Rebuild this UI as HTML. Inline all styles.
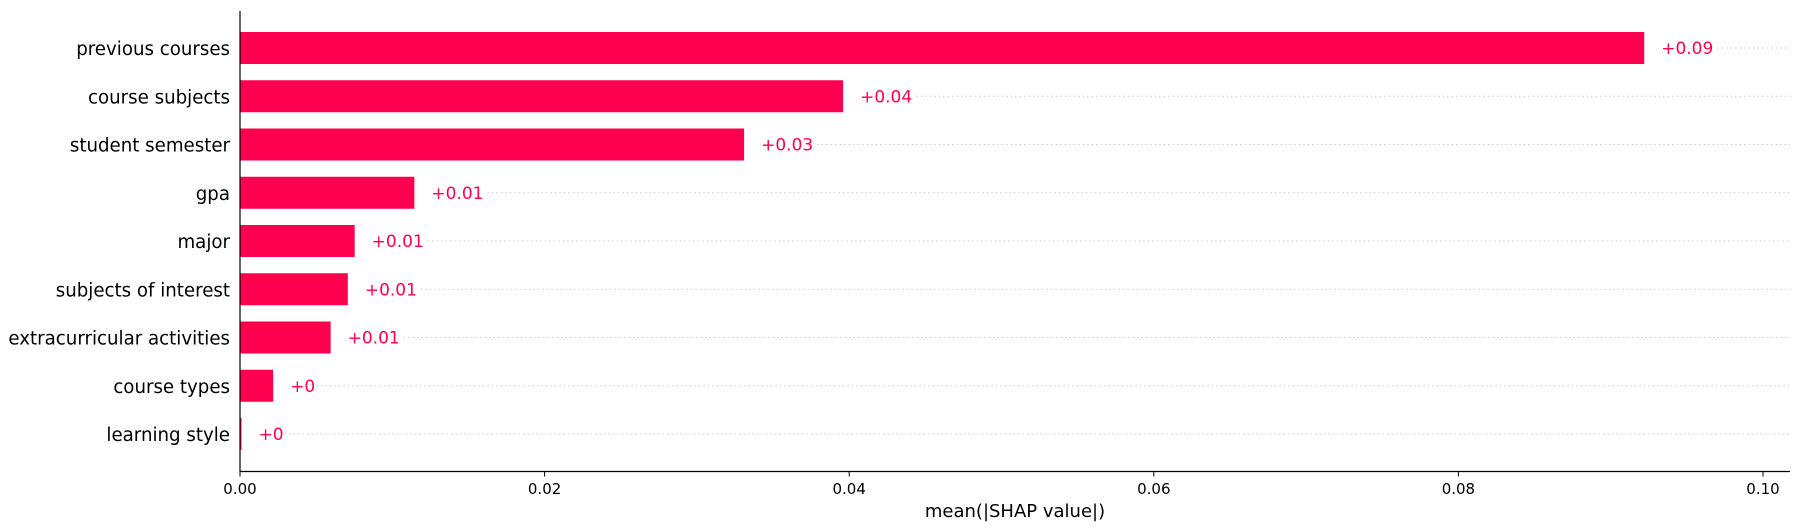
<!DOCTYPE html>
<html><head><meta charset="utf-8"><style>
body{margin:0;background:#fff;}
svg{display:block;font-family:"DejaVu Sans","Liberation Sans",sans-serif;}
</style></head><body>
<svg id="chart" width="1799" height="530" xmlns="http://www.w3.org/2000/svg"></svg>
<script>
const features = ["previous courses","course subjects","student semester","gpa","major","subjects of interest","extracurricular activities","course types","learning style"];
const values = [0.0922,0.0396,0.0331,0.01145,0.00753,0.00708,0.00595,0.00218,0.0001];
const valueLabels = ["+0.09","+0.04","+0.03","+0.01","+0.01","+0.01","+0.01","+0","+0"];
const xTicks = [0,0.02,0.04,0.06,0.08,0.10];
const xTickLabels = ["0.00","0.02","0.04","0.06","0.08","0.10"];

const svg = document.getElementById('chart');
const NS = "http://www.w3.org/2000/svg";
const x0 = 240, x1 = 1763, xEnd = 1790, yTop = 11, yAxis = 471.5;
const xScale = v => x0 + v / 0.1 * (x1 - x0);
const yFirst = 48, yStep = (434 - 48) / 8, barH = 32;
const yScale = i => yFirst + i * yStep;
function mk(tag, attrs, parent){const e=document.createElementNS(NS,tag);for(const k in attrs)e.setAttribute(k,attrs[k]);(parent||svg).appendChild(e);return e;}

features.forEach((f,i)=>{
  const y = yScale(i);
  const vx = xScale(values[i]);
  const g = mk('line',{x1:vx+17+(valueLabels[i].length*10)+6,x2:xEnd,y1:y,y2:y,stroke:'#cccccc','stroke-width':1,'stroke-dasharray':'1.5,3'});
  
  
  const r = mk('rect',{x:x0,y:y-barH/2,width:Math.max(vx-x0,1),height:barH,fill:'#ff0051'});
  
  
  const t = mk('text',{x:vx+17,y:y+6,fill:'#ff0051','font-size':17});
  t.textContent = valueLabels[i];
  
  
  const l = mk('text',{x:230,y:y+7,'text-anchor':'end',fill:'#000','font-size':18.2});
  l.textContent = f;
  
  
});
const ya = mk('line',{x1:x0,x2:x0,y1:yTop,y2:yAxis,stroke:'#000','stroke-width':1.2});


const xa = mk('line',{x1:x0,x2:xEnd,y1:yAxis,y2:yAxis,stroke:'#000','stroke-width':1.2});


xTicks.forEach((v,i)=>{
  const x = xScale(v);
  const tk = mk('line',{x1:x,x2:x,y1:yAxis,y2:yAxis+5,stroke:'#000','stroke-width':1});
  
  
  const tl = mk('text',{x:x,y:494,'text-anchor':'middle','font-size':15,fill:'#000'});
  tl.textContent = xTickLabels[i];
  
  
});
const xt = mk('text',{x:(x0+xEnd)/2,y:517,'text-anchor':'middle','font-size':18,fill:'#000'});
xt.textContent = 'mean(|SHAP value|)';


</script>
</body></html>
